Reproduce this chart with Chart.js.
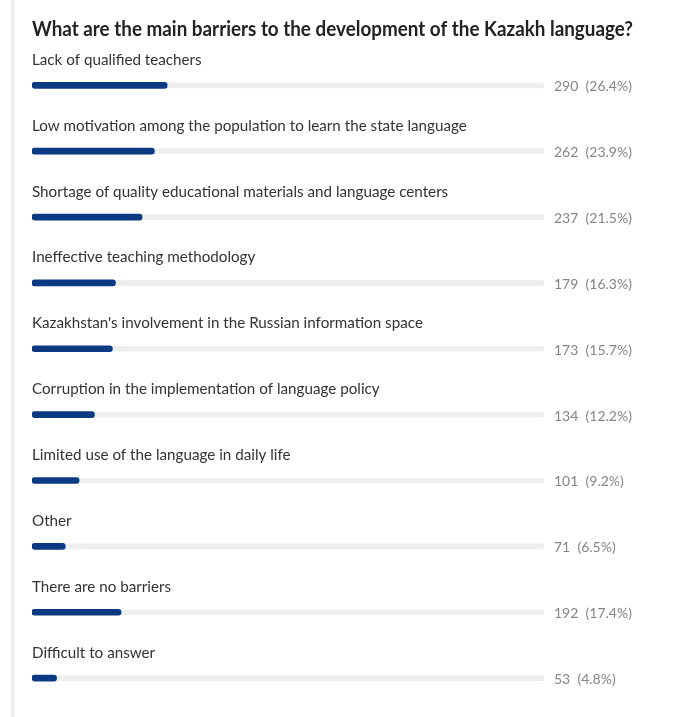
<!DOCTYPE html>
<html>
<head>
<meta charset="utf-8">
<script src="https://cdn.jsdelivr.net/npm/chart.js@4/dist/chart.umd.min.js"></script>
<style>
  html, body { margin: 0; padding: 0; background: #ffffff; }
  #wrap { position: relative; width: 686px; height: 717px; }
</style>
</head>
<body>
<div id="wrap"><canvas id="poll" width="686" height="717"></canvas></div>
<script>
const titleText = 'What are the main barriers to the development of the Kazakh language?';
const answers = [
  'Lack of qualified teachers',
  'Low motivation among the population to learn the state language',
  'Shortage of quality educational materials and language centers',
  'Ineffective teaching methodology',
  "Kazakhstan's involvement in the Russian information space",
  'Corruption in the implementation of language policy',
  'Limited use of the language in daily life',
  'Other',
  'There are no barriers',
  'Difficult to answer'
];
const votes = [290, 262, 237, 179, 173, 134, 101, 71, 192, 53];
const shares = [26.4, 23.9, 21.5, 16.3, 15.7, 12.2, 9.2, 6.5, 17.4, 4.8];
const fullScale = answers.map(() => 100);

const FONT = "'Lato', sans-serif";

// Draws text slightly condensed horizontally, like a narrow sans
function narrowText(ctx, text, x, y, squeeze) {
  ctx.save();
  ctx.translate(x, y);
  ctx.scale(squeeze, 1);
  ctx.fillText(text, 0, 0);
  ctx.restore();
}

// Heading, answer text above each bar, counts to the right of the track, thin rule on the left
const pollText = {
  id: 'pollText',
  beforeDraw(chart) {
    const ctx = chart.ctx;
    ctx.save();
    ctx.fillStyle = '#eeeeee';
    ctx.fillRect(11, 0, 4, chart.height);
    ctx.restore();
  },
  afterDatasetsDraw(chart) {
    const ctx = chart.ctx;
    const y = chart.scales.y;
    const x = chart.scales.x;
    ctx.save();
    ctx.textAlign = 'left';
    ctx.textBaseline = 'alphabetic';
    ctx.font = "bold 20px " + FONT;
    ctx.fillStyle = '#222222';
    ctx.fillText(titleText, x.left, 36, 601);
    answers.forEach((a, i) => {
      const cy = y.getPixelForValue(i);
      ctx.font = "16px " + FONT;
      ctx.fillStyle = '#333333';
      narrowText(ctx, a, x.left, cy - 20.5, 0.95);
      ctx.font = "14px " + FONT;
      ctx.fillStyle = '#858585';
      ctx.fillText(votes[i] + '  (' + shares[i].toFixed(1) + '%)', x.right + 10, cy + 6);
    });
    ctx.restore();
  }
};

new Chart(document.getElementById('poll'), {
  type: 'bar',
  data: {
    labels: answers,
    datasets: [
      {
        data: shares,
        backgroundColor: '#0c3a82',
        barThickness: 6,
        borderRadius: 3,
        borderSkipped: false,
        grouped: false,
        order: 0
      },
      {
        data: fullScale,
        backgroundColor: '#eeeeee',
        barThickness: 5,
        borderRadius: 3,
        borderSkipped: false,
        grouped: false,
        order: 1
      }
    ]
  },
  options: {
    indexAxis: 'y',
    responsive: false,
    animation: false,
    layout: { padding: { left: 32, right: 142, top: 52.4, bottom: 6 } },
    scales: {
      x: { display: false, min: 0, max: 100 },
      y: { display: false }
    },
    plugins: {
      legend: { display: false },
      tooltip: { enabled: false },
      title: { display: false }
    }
  },
  plugins: [pollText]
});
</script>
</body>
</html>
